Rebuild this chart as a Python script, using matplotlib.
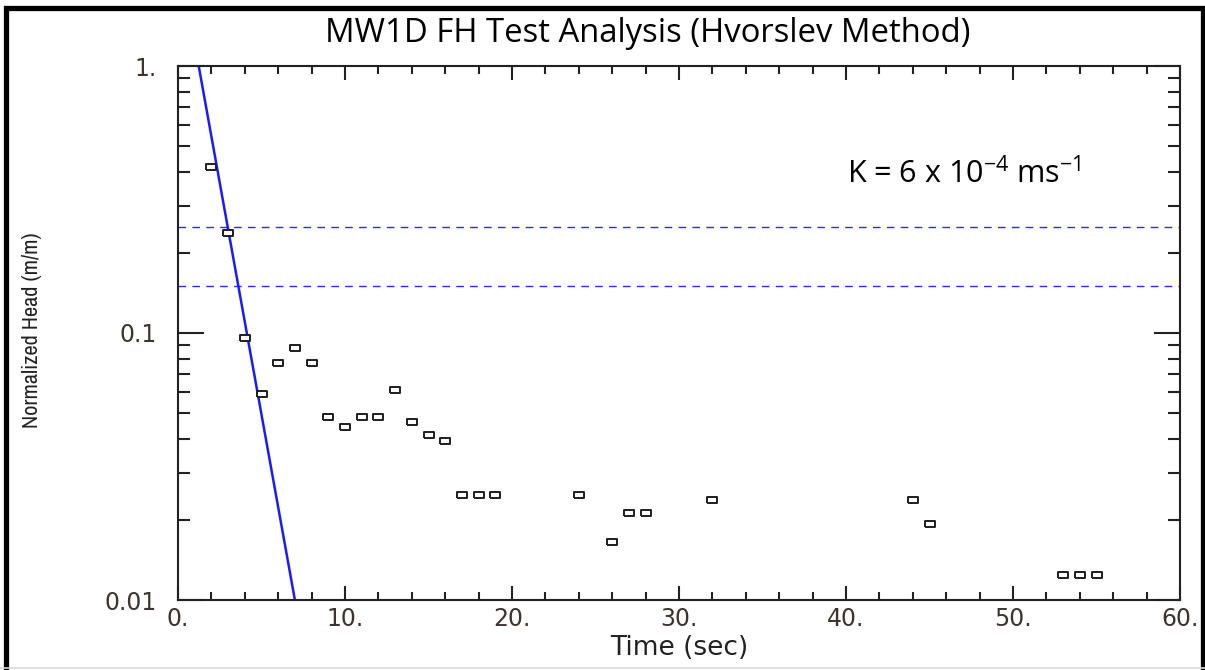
import matplotlib
matplotlib.use('Agg')
import matplotlib.pyplot as plt
from matplotlib import font_manager
from matplotlib.lines import Line2D
from matplotlib.ticker import LogLocator, MultipleLocator, NullFormatter

# Falling-head slug test readings (time in s, normalised head h/h0)
time_s = [2, 3, 4, 5, 6, 7, 8, 9, 10, 11, 12, 13, 14, 15, 16, 17, 18, 19,
          24, 26, 27, 28, 32, 44, 45, 53, 54, 55]
head = [0.42, 0.236, 0.096, 0.059, 0.077, 0.088, 0.077, 0.0485, 0.0443,
        0.0485, 0.0485, 0.061, 0.0463, 0.0416, 0.0395, 0.0247, 0.0247,
        0.0247, 0.0247, 0.0165, 0.0211, 0.0211, 0.0237, 0.0237, 0.0193,
        0.0124, 0.0124, 0.0124]

# Hvorslev straight-line fit (end points on the log axis)
fit_t = [1.24, 7.0]
fit_h = [1.0, 0.01]

# Recommended head range for the fit
guide_levels = [0.25, 0.15]

x_ticks = [0, 10, 20, 30, 40, 50, 60]
x_tick_labels = ['0.', '10.', '20.', '30.', '40.', '50.', '60.']
y_ticks = [0.01, 0.1, 1]
y_tick_labels = ['0.01', '0.1', '1.']

title = 'MW1D FH Test Analysis (Hvorslev Method)'
k_note = r'K = 6 x 10$^{-4}$ ms$^{-1}$'

W, H = 1205, 670
TICK_TXT = '#3d342e'


def pick_narrow_font():
    for f in font_manager.fontManager.ttflist:
        name = f.name.lower()
        if 'narrow' in name or 'condensed' in name:
            return f.name, 'normal'
    for f in font_manager.fontManager.ttflist:
        if f.stretch in ('condensed', 'semi-condensed') and f.name in ('DejaVu Sans', 'Noto Sans', 'Open Sans'):
            return f.name, f.stretch
    return 'DejaVu Sans', 'normal'


def fit_size(text, target_px, vertical=False):
    # rescale a text's font size so its long side spans target_px
    r = fig.canvas.get_renderer()
    bb = text.get_window_extent(renderer=r)
    cur = bb.height if vertical else bb.width
    text.set_fontsize(text.get_fontsize() * target_px / cur)


plt.rcParams['font.family'] = ['Open Sans', 'DejaVu Sans']
plt.rcParams['mathtext.default'] = 'regular'

fig = plt.figure(figsize=(W / 100, H / 100), dpi=100)
ax = fig.add_axes([178 / W, 70 / H, 1002 / W, 534 / H])

ax.plot(fit_t, fit_h, color='#1a1aff', lw=1.8, zorder=2)
for lvl in guide_levels:
    ax.axhline(lvl, color='#2a2aff', lw=1.0, dashes=(5.5, 4.5), zorder=1)

box = [(-1, -0.6), (1, -0.6), (1, 0.6), (-1, 0.6), (-1, -0.6)]
ax.plot(time_s, head, ls='none', marker=box, ms=7.5, mfc='white',
        mec='#1e1e1e', mew=1.4, zorder=3)

ax.set_yscale('log')
ax.set_xlim(0, 60)
ax.set_ylim(0.01, 1)

ax.set_xticks(x_ticks)
ax.set_xticklabels(x_tick_labels, fontsize=17, family='DejaVu Sans',
                   color=TICK_TXT)
ax.xaxis.set_minor_locator(MultipleLocator(2))
ax.set_yticks(y_ticks)
ax.set_yticklabels(y_tick_labels, fontsize=17, family='DejaVu Sans',
                   color=TICK_TXT)
ax.yaxis.set_minor_locator(LogLocator(base=10, subs=range(2, 10)))
ax.yaxis.set_minor_formatter(NullFormatter())

ax.tick_params(which='both', direction='in', top=True, right=True,
               color='#222222', width=1.5)
ax.tick_params(axis='x', which='major', length=10, pad=5)
ax.tick_params(axis='x', which='minor', length=5.5)
ax.tick_params(axis='y', which='major', length=19, pad=15)
ax.tick_params(axis='y', which='minor', length=8.6)

for s in ax.spines.values():
    s.set_linewidth(1.5)
    s.set_color('#222222')

ax.set_xlabel('Time (sec)', fontsize=19, family='DejaVu Sans', color='#222222')
ax.xaxis.set_label_coords(0.5, -0.066)

narrow, stretch = pick_narrow_font()
ylab = fig.text(32 / W, 1 - 330 / H, 'Normalized Head (m/m)', rotation=90,
                ha='center', va='center', fontsize=17, family=narrow,
                fontstretch=stretch, color='#222222')
fit_size(ylab, 195, vertical=True)

ttl = fig.text(648 / W, 1 - 42 / H, title, ha='center', va='baseline',
               fontsize=22)
fit_size(ttl, 645)
fig.text(847 / W, 1 - 183 / H, k_note, ha='left', va='baseline', fontsize=22)

# frame round the whole figure (open at the bottom)
bx = [5.5, 5.5, 1203, 1203]
by = [667, 7.5, 7.5, 667]
fig.add_artist(Line2D([x / W for x in bx], [1 - y / H for y in by],
                      transform=fig.transFigure, color='black', lw=3.8,
                      solid_joinstyle='miter'))
fig.add_artist(Line2D([0, 1], [1 - 668 / H] * 2, transform=fig.transFigure,
                      color='#d9d9d9', lw=1.2))

fig.savefig('out.png', dpi=100)
